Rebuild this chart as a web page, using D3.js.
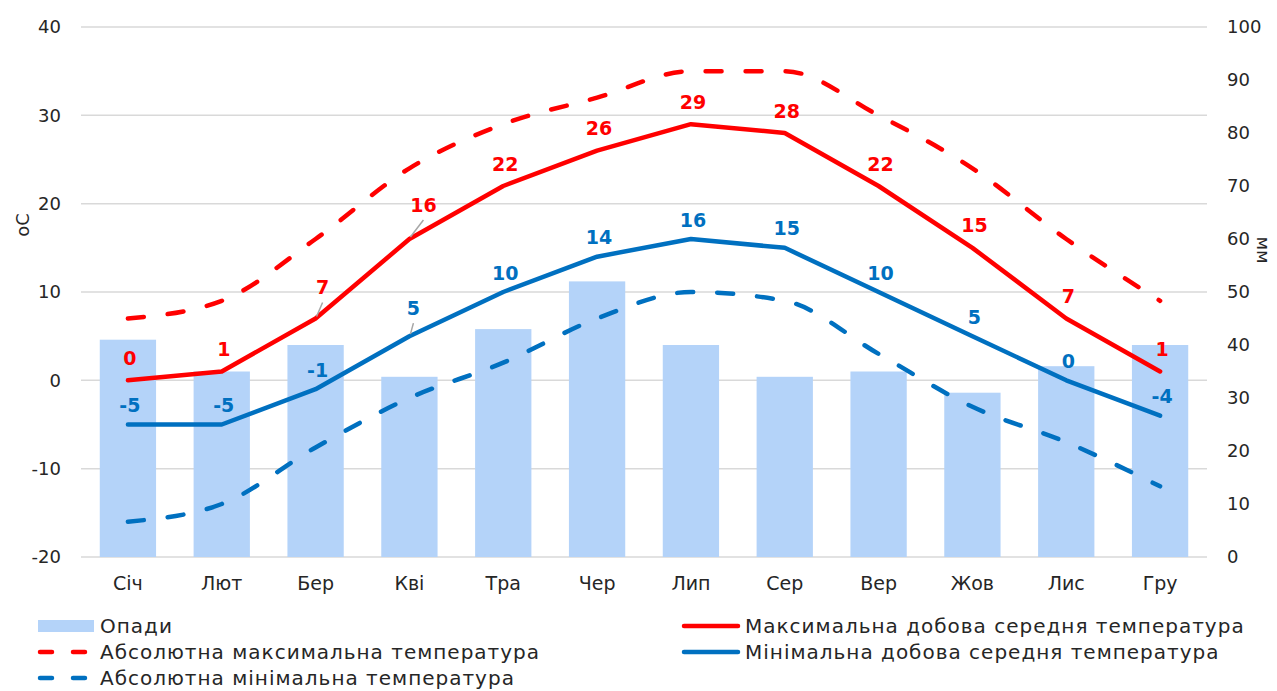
<!DOCTYPE html>
<html>
<head>
<meta charset="utf-8">
<script src="https://cdn.jsdelivr.net/npm/d3@7"></script>
<style>
  body { margin: 0; background: #fff; }
  svg { font-family: "DejaVu Sans", sans-serif; }
</style>
</head>
<body>
<svg id="chart" width="1277" height="691"></svg>
<script>
// Climate data
const months = ['Січ', 'Лют', 'Бер', 'Кві', 'Тра', 'Чер', 'Лип', 'Сер', 'Вер', 'Жов', 'Лис', 'Гру'];
const precipitation = [41, 35, 40, 34, 43, 52, 40, 34, 35, 31, 36, 40];
const maxDaily = [0, 1, 7, 16, 22, 26, 29, 28, 22, 15, 7, 1];
const absMax = [7, 9, 16, 24, 29, 32, 35, 35, 30, 24, 16, 9];
const minDaily = [-5, -5, -1, 5, 10, 14, 16, 15, 10, 5, 0, -4];
const absMin = [-16, -14, -7.6, -2, 2, 7, 10, 9, 3, -3, -7, -12];
const tempTicks = [-20, -10, 0, 10, 20, 30, 40];
const mmTicks = [0, 10, 20, 30, 40, 50, 60, 70, 80, 90, 100];

const RED = '#ff0000';
const BLUE = '#0070c0';
const BAR = '#b4d3f9';
const GRID = '#d9d9d9';

const svg = d3.select('#chart');

// plot area
const plotLeft = 81, plotRight = 1207, plotTop = 27, plotBottom = 557;

const x = d3.scaleBand()
    .domain(months)
    .range([plotLeft, plotRight])
    .paddingInner(0.4)
    .paddingOuter(0.2);
const cx = (m) => x(m) + x.bandwidth() / 2;

const yT = d3.scaleLinear().domain([-20, 40]).range([plotBottom, plotTop]);
const yP = d3.scaleLinear().domain([0, 100]).range([plotBottom, plotTop]);

// Gridlines
svg.append('g')
    .selectAll('line')
    .data(tempTicks)
    .enter()
    .append('line')
    .attr('x1', plotLeft)
    .attr('x2', plotRight)
    .attr('y1', (d) => yT(d))
    .attr('y2', (d) => yT(d))
    .attr('stroke', GRID)
    .attr('stroke-width', 1.5);

// Axes (plain hyphen for negatives, like the source)
const leftAxis = svg.append('g')
    .attr('transform', `translate(${plotLeft},0)`)
    .call(d3.axisLeft(yT).tickValues(tempTicks).tickFormat((d) => String(d)).tickSize(0).tickPadding(20));
const rightAxis = svg.append('g')
    .attr('transform', `translate(${plotRight},0)`)
    .call(d3.axisRight(yP).tickValues(mmTicks).tickFormat((d) => String(d)).tickSize(0).tickPadding(20));
const bottomAxis = svg.append('g')
    .attr('transform', `translate(0,${plotBottom})`)
    .call(d3.axisBottom(x).tickSize(0).tickPadding(20));

[leftAxis, rightAxis, bottomAxis].forEach((g) => {
    g.select('.domain').remove();
    g.selectAll('text')
        .attr('fill', '#262626')
        .style('font-size', '18px')
        .style('font-family', '"DejaVu Sans", sans-serif');
});
bottomAxis.selectAll('text').style('font-size', '19px');

svg.append('text')
    .attr('transform', 'translate(23,225) rotate(-90)')
    .attr('text-anchor', 'middle')
    .attr('dy', '0.35em')
    .attr('fill', '#262626')
    .style('font-size', '18px')
    .text('oC');

svg.append('text')
    .attr('transform', 'translate(1263,250) rotate(90)')
    .attr('text-anchor', 'middle')
    .attr('dy', '0.35em')
    .attr('fill', '#262626')
    .style('font-size', '18px')
    .text('мм');

// Bars (precipitation, right axis)
svg.append('g')
    .selectAll('rect')
    .data(months.map((m, i) => ({month: m, value: precipitation[i]})))
    .enter()
    .append('rect')
    .attr('x', (d) => x(d.month))
    .attr('y', (d) => yP(d.value))
    .attr('width', x.bandwidth())
    .attr('height', (d) => yP(0) - yP(d.value))
    .attr('fill', BAR);

const toPoints = (values) => months.map((m, i) => ({month: m, value: values[i]}));

const straightLine = d3.line()
    .x((d) => cx(d.month))
    .y((d) => yT(d.value));
const smoothLine = d3.line()
    .x((d) => cx(d.month))
    .y((d) => yT(d.value))
    .curve(d3.curveMonotoneX);

// Dashed absolute lines
[[absMax, RED], [absMin, BLUE]].forEach(([values, color]) => {
    svg.append('path')
        .attr('d', smoothLine(toPoints(values)))
        .attr('fill', 'none')
        .attr('stroke', color)
        .attr('stroke-width', 4.5)
        .attr('stroke-linecap', 'round')
        .attr('stroke-dasharray', '16,24');
});

// Solid daily lines
[[maxDaily, RED], [minDaily, BLUE]].forEach(([values, color]) => {
    svg.append('path')
        .attr('d', straightLine(toPoints(values)))
        .attr('fill', 'none')
        .attr('stroke', color)
        .attr('stroke-width', 4.5)
        .attr('stroke-linecap', 'round')
        .attr('stroke-linejoin', 'round');
});

// Data labels; a few sit further away with a leader line
const labelShift = {
    'max-2': {dx: 7, dy: -31},
    'max-3': {dx: 14, dy: -34},
    'min-3': {dx: 4, dy: -28}
};

[['max', maxDaily, RED, -22], ['min', minDaily, BLUE, -19]].forEach(([key, values, color, offset]) => {
    const g = svg.append('g');
    values.forEach((v, i) => {
        const px = cx(months[i]);
        const py = yT(v);
        const shift = labelShift[`${key}-${i}`];
        const lx = px + (shift ? shift.dx : 2);
        const ly = py + (shift ? shift.dy : offset);
        if (shift) {
            g.append('line')
                .attr('x1', px + 1)
                .attr('y1', py - 2)
                .attr('x2', lx)
                .attr('y2', ly + 15)
                .attr('stroke', '#a6a6a6')
                .attr('stroke-width', 1.5);
        }
        g.append('text')
            .attr('x', lx)
            .attr('y', ly)
            .attr('dy', '0.35em')
            .attr('text-anchor', 'middle')
            .attr('fill', color)
            .style('font-size', '19px')
            .style('font-weight', 'bold')
            .text(v);
    });
});

// Legend
const legendItems = [
    {name: 'Опади', type: 'bar', color: BAR, x: 38, y: 626},
    {name: 'Абсолютна максимальна температура', type: 'dash', color: RED, x: 38, y: 652},
    {name: 'Абсолютна мінімальна температура', type: 'dash', color: BLUE, x: 38, y: 678},
    {name: 'Максимальна добова середня температура', type: 'line', color: RED, x: 682, y: 626},
    {name: 'Мінімальна добова середня температура', type: 'line', color: BLUE, x: 682, y: 652}
];

const legend = svg.append('g')
    .selectAll('g')
    .data(legendItems)
    .enter()
    .append('g')
    .attr('transform', (d) => `translate(${d.x},${d.y})`);

legend.filter((d) => d.type === 'bar')
    .append('rect')
    .attr('x', 0)
    .attr('y', -6)
    .attr('width', 56)
    .attr('height', 12)
    .attr('fill', BAR);

legend.filter((d) => d.type !== 'bar')
    .append('line')
    .attr('x1', 2)
    .attr('x2', (d) => d.type === 'dash' ? 48 : 56)
    .attr('stroke', (d) => d.color)
    .attr('stroke-width', 4.5)
    .attr('stroke-linecap', 'round')
    .attr('stroke-dasharray', (d) => d.type === 'dash' ? '12,21' : null);

legend.append('text')
    .attr('x', (d) => d.type === 'line' ? 63 : 62)
    .attr('dy', '0.35em')
    .attr('fill', '#262626')
    .style('font-size', '20px')
    .style('letter-spacing', '1px')
    .text((d) => d.name);
</script>
</body>
</html>
